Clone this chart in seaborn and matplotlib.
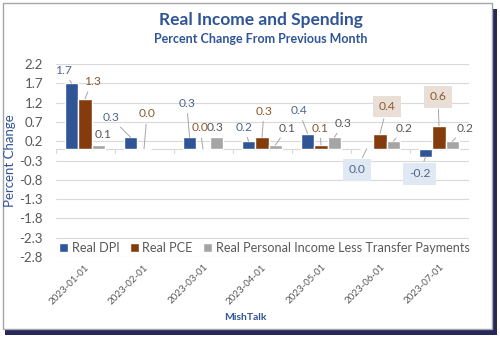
import numpy as np
import pandas as pd
import matplotlib
matplotlib.use("Agg")
import matplotlib.pyplot as plt
from matplotlib.patches import Rectangle
import seaborn as sns

# Monthly percent changes
months = ["2023-01-01", "2023-02-01", "2023-03-01", "2023-04-01",
          "2023-05-01", "2023-06-01", "2023-07-01"]
series_names = ["Real DPI", "Real PCE", "Real Personal Income Less Transfer Payments"]
real_dpi = [1.7, 0.3, 0.3, 0.2, 0.4, 0.0, -0.2]
real_pce = [1.3, 0.0, 0.0, 0.3, 0.1, 0.4, 0.6]
real_pi_less_transfers = [0.1, np.nan, 0.3, 0.1, 0.3, 0.2, 0.2]
y_ticks = [-2.8, -2.3, -1.8, -1.3, -0.8, -0.3, 0.2, 0.7, 1.2, 1.7, 2.2]

values = [real_dpi, real_pce, real_pi_less_transfers]
df = pd.DataFrame({
    "month": months * 3,
    "series": sum([[s] * len(months) for s in series_names], []),
    "value": real_dpi + real_pce + real_pi_less_transfers,
})

colors = ["#2f5597", "#843c0c", "#a5a5a5"]
label_colors = ["#4f6690", "#8a5a32", "#595959"]
navy = "#2f5597"
grid_c = "#d9d9d9"
txt_c = "#595959"

sns.set_theme(style="white")
plt.rcParams["font.family"] = ["Lato", "DejaVu Sans"]

fig = plt.figure(figsize=(5.0, 3.39), dpi=100)
W, H = 500, 339

# card frame with dark drop shadow
fig.patches.append(Rectangle((5 / W, 1 - 335 / H), 492 / W, 326 / H,
                             transform=fig.transFigure, fc="#26285a", ec="none", zorder=0))
fig.patches.append(Rectangle((3 / W, 1 - 329 / H), 489 / W, 326 / H,
                             transform=fig.transFigure, fc="white", ec="#a6a6a6", lw=1.0, zorder=1))

ax = fig.add_axes([0.111, 0.242, 0.826, 0.569])
ax.set_zorder(2)
ax.patch.set_alpha(0)

sns.barplot(data=df, x="month", y="value", hue="series", order=months,
            hue_order=series_names, palette=colors, width=0.68, gap=0,
            saturation=1, ax=ax, legend=True, zorder=3)

ax.set_ylim(-2.8, 2.2)
ax.set_xlim(-0.5, len(months) - 0.5)
ax.set_yticks(y_ticks)
ax.set_yticklabels([f"{t:.1f}" for t in y_ticks], fontsize=9.5, color=txt_c)
ax.yaxis.grid(True, color=grid_c, lw=0.8, zorder=0)
ax.set_axisbelow(True)
for s in ax.spines.values():
    s.set_visible(False)
ax.tick_params(axis="y", length=0, pad=9)
ax.tick_params(axis="x", length=0, pad=4)
plt.setp(ax.get_xticklabels(), rotation=45, ha="right", rotation_mode="anchor",
         fontsize=7, color=txt_c)
ax.set_xlabel("")
ax.set_ylabel("Percent Change", fontsize=9.5, color=navy)
ax.yaxis.set_label_coords(-0.110, 0.5)
ax.yaxis.label.set_va("center")

# category axis at zero with boundary tick marks
ax.axhline(0, color=grid_c, lw=0.8, zorder=2)
for k in range(len(months) + 1):
    ax.plot([k - 0.5, k - 0.5], [0, -0.1], color=grid_c, lw=0.8, zorder=2)

# data label offsets in pixels (dx right, dy down) per series / month
offsets = [
    [(-8, -13), (-20, -20), (-3, -34), (-5, -14), (-9, -23), (-10, 21), (-6, 17)],
    [(7, -17), (3, -35), (-3, -21), (2, -26), (-1, -17), (7, -27), (-1, -29)],
    [(5, -11), (0, 0), (-1, -10), (12, -17), (9, -14), (11, -13), (13, -13)],
]
boxed = {(0, 5): "#dfe8f3", (1, 5): "#eadfd6", (0, 6): "#dfe8f3", (1, 6): "#eadfd6"}

n_series = len(series_names)
bw = 0.68 / n_series
for si, vals in enumerate(values):
    for mi, v in enumerate(vals):
        if np.isnan(v):
            continue
        x = mi - 0.34 + bw * (si + 0.5)
        dx, dy = offsets[si][mi]
        dist = np.hypot(dx, dy)
        kw = {}
        if dist > 13:
            kw["arrowprops"] = dict(arrowstyle="-", color="#a6a6a6", lw=0.7,
                                    shrinkA=1, shrinkB=0)
        bbox = None
        if (si, mi) in boxed:
            bbox = dict(boxstyle="square,pad=0.45", fc=boxed[(si, mi)], ec="none")
        ax.annotate(f"{v:.1f}", xy=(x, v), xytext=(dx, -dy), textcoords="offset pixels",
                    ha="center", va="center", fontsize=8.7, color=label_colors[si],
                    bbox=bbox, zorder=5, **kw)

handles, labels = ax.get_legend_handles_labels()
ax.legend(handles, labels, ncol=3, loc="center", bbox_to_anchor=(0.506, 0.045),
          frameon=False, fontsize=9.1, labelcolor=txt_c, handlelength=0.7,
          handleheight=0.7, handletextpad=0.3, columnspacing=0.8, borderpad=0)

fig.text(0.522, 1 - 20 / H, "Real Income and Spending", ha="center", va="center",
         fontsize=12.5, fontweight="bold", color=navy)
fig.text(0.522, 1 - 39 / H, "Percent Change From Previous Month", ha="center",
         va="center", fontsize=9, fontweight="bold", color=navy)
fig.text(245 / W, 1 - 317 / H, "MishTalk", ha="center", va="center",
         fontsize=7.5, fontweight="bold", color=navy)

fig.savefig("out.png", dpi=100, facecolor="white")
